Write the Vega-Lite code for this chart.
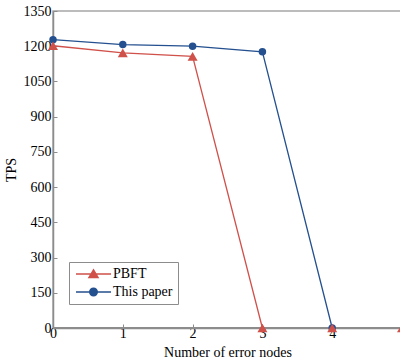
{
  "$schema": "https://vega.github.io/schema/vega-lite/v6.json",
  "autosize": "none",
  "padding": {"left": 53, "top": 11, "right": 0, "bottom": 36},
  "width": 349,
  "height": 317,
  "background": "white",
  "config": {
    "font": "Liberation Serif",
    "view": {"stroke": "#a6a6a6", "strokeWidth": 1.5},
    "axis": {
      "domainColor": "#8c8c8c",
      "domainWidth": 1.5,
      "tickColor": "#8c8c8c",
      "labelFont": "Liberation Serif",
      "titleFont": "Liberation Serif",
      "labelFontSize": 14,
      "titleFontSize": 14,
      "titleFontWeight": "normal",
      "labelColor": "#000",
      "titleColor": "#000",
      "grid": false
    },
    "legend": {"labelFont": "Liberation Serif", "labelFontSize": 14}
  },
  "data": {
    "values": [
      {"nodes": 0, "tps": 1228, "series": "This paper"},
      {"nodes": 1, "tps": 1207, "series": "This paper"},
      {"nodes": 2, "tps": 1200, "series": "This paper"},
      {"nodes": 3, "tps": 1176, "series": "This paper"},
      {"nodes": 4, "tps": 0, "series": "This paper"},
      {"nodes": 0, "tps": 1202, "series": "PBFT"},
      {"nodes": 1, "tps": 1172, "series": "PBFT"},
      {"nodes": 2, "tps": 1157, "series": "PBFT"},
      {"nodes": 3, "tps": 0, "series": "PBFT"},
      {"nodes": 4, "tps": 0, "series": "PBFT"},
      {"nodes": 5, "tps": 0, "series": "PBFT"}
    ]
  },
  "encoding": {
    "x": {
      "field": "nodes", "type": "quantitative",
      "scale": {"domain": [0, 5], "nice": false},
      "axis": {"title": "Number of error nodes", "values": [0, 1, 2, 3, 4], "format": "d", "tickSize": -4, "labelPadding": 2, "titlePadding": 5, "labelFlush": false}
    },
    "y": {
      "field": "tps", "type": "quantitative",
      "scale": {"domain": [0, 1350], "nice": false},
      "axis": {"title": "TPS", "values": [0, 150, 300, 450, 600, 750, 900, 1050, 1200, 1350], "format": "d", "tickSize": -4, "labelPadding": 6, "titlePadding": 5, "labelFlush": false}
    }
  },
  "layer": [
    {
      "transform": [{"filter": "datum.series === 'This paper'"}],
      "mark": {"type": "line", "strokeWidth": 1.3, "color": "#24508f"}
    },
    {
      "transform": [{"filter": "datum.series === 'PBFT'"}],
      "mark": {"type": "line", "strokeWidth": 1.3, "color": "#d0504a"}
    },
    {
      "mark": {"type": "rule", "color": "#8c8c8c", "strokeWidth": 2.2, "opacity": 1},
      "encoding": {
        "x": {"datum": 0, "type": "quantitative"},
        "x2": {"datum": 5},
        "y": {"datum": 0, "type": "quantitative"}
      }
    },
    {
      "transform": [{"filter": "datum.series === 'This paper'"}],
      "mark": {"type": "point", "filled": true, "opacity": 1, "shape": "circle", "size": 56, "color": "#24508f"}
    },
    {
      "transform": [{"filter": "datum.series === 'PBFT'"}],
      "mark": {"type": "point", "filled": true, "opacity": 1, "shape": "triangle-up", "size": 100, "color": "#d0504a"}
    },
    {
      "mark": {"type": "point", "filled": false, "opacity": 0, "strokeWidth": 1.5},
      "encoding": {
        "color": {
          "field": "series", "type": "nominal",
          "scale": {"domain": ["PBFT", "This paper"], "range": ["#d0504a", "#24508f"]},
          "legend": {
            "title": null,
            "orient": "none",
            "legendX": 16,
            "legendY": 251,
            "padding": 5,
            "strokeColor": "#8c8c8c",
            "fillColor": "white",
            "symbolSize": 100,
            "symbolStrokeWidth": 1.5,
            "symbolOpacity": 1,
            "rowPadding": 4,
            "labelOffset": 25,
            "labelColor": "#000"
          }
        },
        "fill": {
          "field": "series", "type": "nominal",
          "scale": {"domain": ["PBFT", "This paper"], "range": ["#d0504a", "#24508f"]},
          "legend": {
            "title": null,
            "orient": "none",
            "legendX": 16,
            "legendY": 251,
            "padding": 5,
            "strokeColor": "#8c8c8c",
            "fillColor": "white",
            "symbolSize": 100,
            "symbolStrokeWidth": 1.5,
            "symbolOpacity": 1,
            "rowPadding": 4,
            "labelOffset": 25,
            "labelColor": "#000"
          }
        },
        "shape": {
          "field": "series", "type": "nominal",
          "scale": {"domain": ["PBFT", "This paper"], "range": ["M-1,0H6M2.5,-0.8L3.4,0.7L1.6,0.7Z", "M-1,0H6M3.25,0A0.75,0.75,0,1,1,1.75,0A0.75,0.75,0,1,1,3.25,0Z"]},
          "legend": {
            "title": null,
            "orient": "none",
            "legendX": 16,
            "legendY": 251,
            "padding": 5,
            "strokeColor": "#8c8c8c",
            "fillColor": "white",
            "symbolSize": 100,
            "symbolStrokeWidth": 1.5,
            "symbolOpacity": 1,
            "rowPadding": 4,
            "labelOffset": 25,
            "labelColor": "#000"
          }
        }
      }
    }
  ]
}
